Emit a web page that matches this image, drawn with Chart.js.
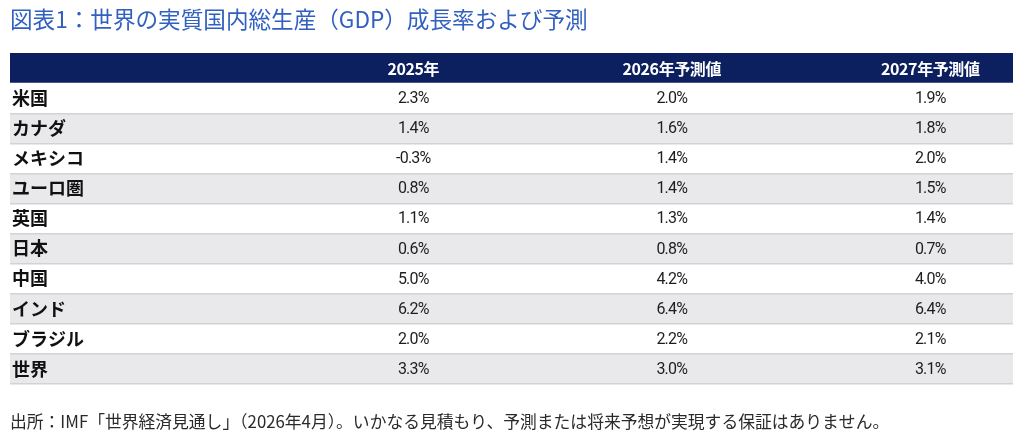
<!DOCTYPE html>
<html>
<head>
<meta charset="utf-8">
<script src="https://cdn.jsdelivr.net/npm/chart.js@4/dist/chart.umd.min.js"></script>
<style>
  html, body { margin: 0; padding: 0; background: #fff; }
  #wrap { width: 1024px; height: 441px; }
</style>
</head>
<body>
<div id="wrap"><canvas id="growthTable"></canvas></div>
<script>
const columns = ['2025年', '2026年予測値', '2027年予測値'];
const countries = ['米国', 'カナダ', 'メキシコ', 'ユーロ圏', '英国', '日本', '中国', 'インド', 'ブラジル', '世界'];
const growth2025 = [2.3, 1.4, -0.3, 0.8, 1.1, 0.6, 5.0, 6.2, 2.0, 3.3];
const growth2026 = [2.0, 1.6, 1.4, 1.4, 1.3, 0.8, 4.2, 6.4, 2.2, 3.0];
const growth2027 = [1.9, 1.8, 2.0, 1.5, 1.4, 0.7, 4.0, 6.4, 2.1, 3.1];

const titleText = '図表1：世界の実質国内総生産（GDP）成長率および予測';
const sourceText = '出所：IMF「世界経済見通し」（2026年4月）。いかなる見積もり、予測または将来予想が実現する保証はありません。';

const series = [growth2025, growth2026, growth2027];
const rowLabels = [''].concat(countries);

// x runs over column index, label column sits left of 1
const X_MIN = -0.56;
const X_MAX = 3.32;

const JP = '"Noto Sans CJK JP", "Noto Sans", sans-serif';

const rowColours = rowLabels.map((_, i) => i === 0 ? '#0c2060' : (i % 2 === 0 ? '#e9e9eb' : '#ffffff'));

const cellText = {
  id: 'cellText',
  afterDatasetsDraw(chart) {
    const ctx = chart.ctx;
    const x = chart.scales.x;
    const y = chart.scales.y;
    ctx.save();
    ctx.textAlign = 'center';
    ctx.textBaseline = 'middle';

    ctx.fillStyle = '#ffffff';
    ctx.font = 'bold 16px ' + JP;
    if ('letterSpacing' in ctx) ctx.letterSpacing = '-0.4px';
    columns.forEach((c, i) => {
      ctx.fillText(c, x.getPixelForValue(i + 1), y.getPixelForValue(0) + 1);
    });

    ctx.fillStyle = '#1e1e1e';
    ctx.font = '16px Roboto, ' + JP;
    if ('letterSpacing' in ctx) ctx.letterSpacing = '-0.8px';
    series.forEach((vals, c) => {
      vals.forEach((v, r) => {
        ctx.fillText(v.toFixed(1) + '%', x.getPixelForValue(c + 1), y.getPixelForValue(r + 1) + 1);
      });
    });
    ctx.restore();
  }
};

new Chart(document.getElementById('growthTable'), {
  type: 'bar',
  data: {
    labels: rowLabels,
    datasets: [{
      label: 'rows',
      data: rowLabels.map(() => [X_MIN, X_MAX]),
      backgroundColor: rowColours,
      borderWidth: 0,
      barPercentage: 1,
      categoryPercentage: 1
    }]
  },
  options: {
    indexAxis: 'y',
    responsive: true,
    maintainAspectRatio: false,
    animation: false,
    layout: { padding: { left: 10, right: 11, top: 0, bottom: 0 } },
    plugins: {
      legend: { display: false },
      tooltip: { enabled: false },
      title: {
        display: true,
        text: titleText,
        align: 'start',
        color: '#3160c0',
        font: { family: JP, size: 22.6, weight: 'normal' },
        padding: { top: 6, bottom: 20 }
      },
      subtitle: {
        display: true,
        text: sourceText,
        position: 'bottom',
        align: 'start',
        color: '#2a2a2a',
        font: { family: JP, size: 16.8, weight: 'normal' },
        padding: { top: 28, bottom: 9 }
      }
    },
    scales: {
      x: {
        type: 'linear',
        min: X_MIN,
        max: X_MAX,
        display: false
      },
      y: {
        type: 'category',
        position: 'left',
        afterFit: (s) => { s.width = 0; },
        border: { display: false },
        grid: {
          z: 1,
          drawTicks: false,
          lineWidth: 1.5,
          color: (c) => c.index <= 1 ? 'rgba(0,0,0,0)' : '#d2d3d5'
        },
        ticks: {
          z: 1,
          mirror: true,
          autoSkip: false,
          padding: 2,
          color: '#111111',
          font: { family: JP, size: 18, weight: 'bold' }
        }
      }
    }
  },
  plugins: [cellText]
});
</script>
</body>
</html>
